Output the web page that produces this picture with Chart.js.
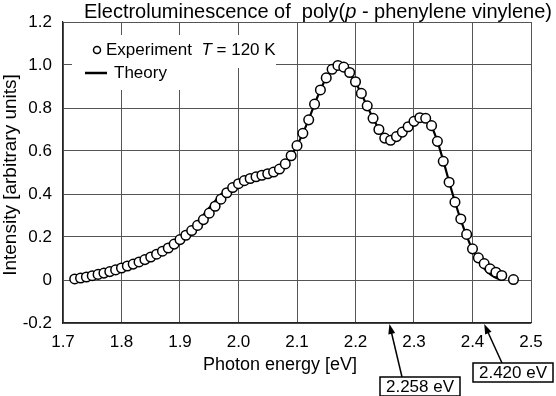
<!DOCTYPE html>
<html>
<head>
<meta charset="utf-8">
<script src="https://cdn.jsdelivr.net/npm/chart.js@4.4.1/dist/chart.umd.min.js"></script>
<style>
html, body { margin: 0; padding: 0; background: #fff; }
#wrap { width: 556px; height: 396px; }
</style>
</head>
<body>
<div id="wrap"><canvas id="elChart" width="556" height="396"></canvas></div>
<script>
// experiment (circles)
const expX = [1.72, 1.73, 1.74, 1.75, 1.76, 1.77, 1.78, 1.79, 1.80, 1.81,
    1.82, 1.83, 1.84, 1.85, 1.86, 1.87, 1.88, 1.89, 1.90, 1.91,
    1.92, 1.93, 1.94, 1.95, 1.96, 1.97, 1.98, 1.99, 2.00, 2.01,
    2.02, 2.03, 2.04, 2.05, 2.06, 2.07, 2.08, 2.09, 2.10, 2.11,
    2.12, 2.13, 2.14, 2.15, 2.16, 2.17, 2.18, 2.19, 2.20, 2.21,
    2.22, 2.23, 2.24, 2.25, 2.26, 2.27, 2.28, 2.29, 2.30, 2.31,
    2.32, 2.33, 2.34, 2.35, 2.36, 2.37, 2.38, 2.39, 2.40, 2.41,
    2.42, 2.43, 2.44, 2.45, 2.47];
const expY = [0.005, 0.009, 0.014, 0.020, 0.026, 0.032, 0.039, 0.047, 0.056, 0.065,
    0.074, 0.084, 0.095, 0.107, 0.120, 0.134, 0.149, 0.167, 0.188, 0.208,
    0.230, 0.254, 0.281, 0.311, 0.343, 0.376, 0.406, 0.430, 0.448, 0.462,
    0.472, 0.480, 0.487, 0.494, 0.502, 0.516, 0.540, 0.578, 0.625, 0.682,
    0.745, 0.818, 0.884, 0.940, 0.980, 0.998, 0.990, 0.965, 0.922, 0.868,
    0.810, 0.752, 0.700, 0.660, 0.650, 0.667, 0.688, 0.713, 0.738, 0.755,
    0.752, 0.718, 0.645, 0.552, 0.455, 0.362, 0.284, 0.212, 0.145, 0.103,
    0.076, 0.052, 0.036, 0.021, 0.002];

// theory (line)
const theoryX = [1.73, 1.74, 1.75, 1.76, 1.77, 1.78, 1.79, 1.80, 1.81, 1.82,
    1.83, 1.84, 1.85, 1.86, 1.87, 1.88, 1.89, 1.90, 1.91, 1.92,
    1.93, 1.94, 1.95, 1.96, 1.97, 1.98, 1.99, 2.00, 2.01, 2.02,
    2.03, 2.04, 2.05, 2.06, 2.07, 2.08, 2.09, 2.10, 2.11, 2.12,
    2.13, 2.14, 2.15, 2.16, 2.17, 2.18, 2.19, 2.20, 2.21, 2.22,
    2.23, 2.24, 2.25, 2.26, 2.27, 2.28, 2.29, 2.30, 2.31, 2.32,
    2.33, 2.34, 2.35, 2.36, 2.37, 2.38, 2.39, 2.40, 2.41, 2.42,
    2.43, 2.44, 2.45];
const theoryY = [0.004, 0.008, 0.012, 0.017, 0.023, 0.029, 0.036, 0.044, 0.053, 0.062,
    0.072, 0.083, 0.095, 0.108, 0.123, 0.140, 0.160, 0.185, 0.212, 0.240,
    0.270, 0.303, 0.336, 0.368, 0.397, 0.420, 0.437, 0.451, 0.462, 0.470,
    0.478, 0.485, 0.493, 0.503, 0.518, 0.542, 0.578, 0.625, 0.682, 0.747,
    0.818, 0.884, 0.940, 0.978, 0.995, 0.988, 0.963, 0.920, 0.866, 0.808,
    0.752, 0.702, 0.665, 0.652, 0.664, 0.687, 0.713, 0.737, 0.752, 0.748,
    0.714, 0.645, 0.555, 0.458, 0.364, 0.280, 0.205, 0.140, 0.090, 0.053,
    0.027, 0.010, 0.002];

const xTicks = [1.7, 1.8, 1.9, 2.0, 2.1, 2.2, 2.3, 2.4, 2.5];
const yTicks = [-0.2, 0, 0.2, 0.4, 0.6, 0.8, 1.0, 1.2];
const markedEnergies = ['2.258', '2.420'];

const FONT = '"Liberation Sans", Arial, Helvetica, sans-serif';

function runsWidth(ctx, runs, size) {
    let w = 0;
    runs.forEach(r => {
        ctx.font = (r[1] ? 'italic ' : '') + size + 'px ' + FONT;
        w += ctx.measureText(r[0]).width;
    });
    return w;
}

function drawRuns(ctx, runs, x, y, size) {
    ctx.textAlign = 'left';
    ctx.textBaseline = 'middle';
    runs.forEach(r => {
        ctx.font = (r[1] ? 'italic ' : '') + size + 'px ' + FONT;
        ctx.fillText(r[0], x, y);
        x += ctx.measureText(r[0]).width;
    });
}

function arrow(ctx, x0, y0, x1, y1) {
    const a = Math.atan2(y1 - y0, x1 - x0);
    const len = 10, hw = 3.5;
    ctx.beginPath();
    ctx.moveTo(x0, y0);
    ctx.lineTo(x1 - Math.cos(a) * len * 0.8, y1 - Math.sin(a) * len * 0.8);
    ctx.lineWidth = 1.5;
    ctx.strokeStyle = '#000';
    ctx.stroke();
    ctx.beginPath();
    ctx.moveTo(x1, y1);
    ctx.lineTo(x1 - Math.cos(a) * len - Math.sin(a) * hw, y1 - Math.sin(a) * len + Math.cos(a) * hw);
    ctx.lineTo(x1 - Math.cos(a) * len + Math.sin(a) * hw, y1 - Math.sin(a) * len - Math.cos(a) * hw);
    ctx.closePath();
    ctx.fillStyle = '#000';
    ctx.fill();
}

const legendPlugin = {
    id: 'legendBox',
    beforeDatasetsDraw(chart) {
        const ctx = chart.ctx;
        ctx.save();
        ctx.fillStyle = '#fff';
        ctx.fillRect(72, 35, 204, 33);
        ctx.fillRect(72, 60, 114, 30);
        // experiment marker
        ctx.beginPath();
        ctx.arc(97, 50, 3.5, 0, Math.PI * 2);
        ctx.lineWidth = 1.5;
        ctx.strokeStyle = '#000';
        ctx.stroke();
        ctx.fillStyle = '#000';
        drawRuns(ctx, [['Experiment  ', false], ['T', true], [' = 120 K', false]], 106, 50, 17);
        // theory line
        ctx.beginPath();
        ctx.moveTo(85, 73);
        ctx.lineTo(107, 73);
        ctx.lineWidth = 2.5;
        ctx.stroke();
        drawRuns(ctx, [['Theory', false]], 114, 73, 17);
        ctx.restore();
    }
};

const textPlugin = {
    id: 'extraText',
    afterDraw(chart) {
        const ctx = chart.ctx;
        const area = chart.chartArea;
        const xs = chart.scales.x;
        ctx.save();
        ctx.fillStyle = '#000';

        const title = [['Electroluminescence of  poly(', false], ['p', true], [' - phenylene vinylene)', false]];
        const tw = runsWidth(ctx, title, 20);
        drawRuns(ctx, title, 318 - tw / 2, 12, 20);

        ctx.font = '18px ' + FONT;
        ctx.textAlign = 'center';
        ctx.textBaseline = 'middle';
        ctx.fillText('Photon energy [eV]', 280, 365);

        ctx.save();
        ctx.translate(11, 175);
        ctx.rotate(-Math.PI / 2);
        ctx.font = '19px ' + FONT;
        ctx.fillText('Intensity [arbitrary units]', 0, 0);
        ctx.restore();

        // marked energies with boxes
        const boxes = [{ x: 380, y: 377, tailX: 402, tailY: 377 }, { x: 473, y: 363, tailX: 502, tailY: 363 }];
        markedEnergies.forEach((e, i) => {
            const b = boxes[i];
            const px = xs.getPixelForValue(parseFloat(e));
            arrow(ctx, b.tailX, b.tailY, px, area.bottom + 1);
            ctx.lineWidth = 1.5;
            ctx.strokeStyle = '#000';
            ctx.fillStyle = '#fff';
            ctx.fillRect(b.x, b.y, 80, 19);
            ctx.strokeRect(b.x, b.y, 80, 19);
            ctx.fillStyle = '#000';
            ctx.font = '17px ' + FONT;
            ctx.textAlign = 'center';
            ctx.textBaseline = 'middle';
            ctx.fillText(e + ' eV', b.x + 40, b.y + 10);
        });
        ctx.restore();
    }
};

const ctx = document.getElementById('elChart').getContext('2d');

new Chart(ctx, {
    type: 'scatter',
    data: {
        datasets: [{
            label: 'Experiment',
            data: expX.map((x, i) => ({ x: x, y: expY[i] })),
            pointRadius: 4.8,
            pointBorderWidth: 1.5,
            pointBorderColor: '#000',
            pointBackgroundColor: '#fff',
            showLine: false,
            order: 0
        }, {
            label: 'Theory',
            data: theoryX.map((x, i) => ({ x: x, y: theoryY[i] })),
            showLine: true,
            borderColor: '#000',
            borderWidth: 2.2,
            pointRadius: 0,
            cubicInterpolationMode: 'monotone',
            order: 1
        }]
    },
    options: {
        responsive: false,
        animation: false,
        layout: { padding: { top: 22, right: 25, left: 0, bottom: 0 } },
        plugins: {
            legend: { display: false },
            tooltip: { enabled: false }
        },
        scales: {
            x: {
                type: 'linear',
                min: 1.7,
                max: 2.5,
                afterFit: s => { s.height = 73; },
                afterBuildTicks: s => { s.ticks = xTicks.map(v => ({ value: v })); },
                grid: { color: '#555', lineWidth: 1, drawTicks: false },
                border: { color: '#222', width: 1.2 },
                ticks: {
                    padding: 9,
                    autoSkip: false,
                    maxRotation: 0,
                    color: '#000',
                    font: { family: FONT, size: 17 },
                    callback: v => v.toFixed(1)
                }
            },
            y: {
                type: 'linear',
                min: -0.2,
                max: 1.2,
                afterFit: s => { s.width = 63; },
                afterBuildTicks: s => { s.ticks = yTicks.map(v => ({ value: v })); },
                grid: { color: '#555', lineWidth: 1, drawTicks: false },
                border: { color: '#222', width: 1.2 },
                ticks: {
                    padding: 11,
                    color: '#000',
                    font: { family: FONT, size: 17 },
                    callback: v => v === 0 ? '0' : v.toFixed(1)
                }
            }
        }
    },
    plugins: [legendPlugin, textPlugin]
});
</script>
</body>
</html>
